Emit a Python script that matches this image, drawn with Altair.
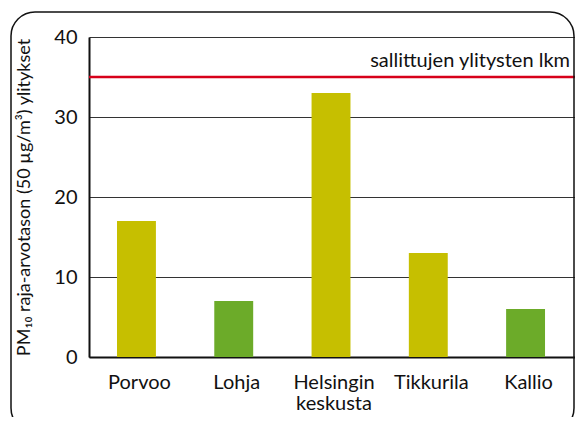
import altair as alt
import pandas as pd

asemat = ["Porvoo", "Lohja", "Helsingin keskusta", "Tikkurila", "Kallio"]
ylitykset = [17, 7, 33, 13, 6]
tyyppi = ["liikenne", "tausta", "liikenne", "liikenne", "tausta"]
raja = 35
raja_teksti = "sallittujen ylitysten lkm"
y_otsikko = "PM₁₀ raja-arvotason (50 µg/m³) ylitykset"

df = pd.DataFrame({"asema": asemat, "arvo": ylitykset, "tyyppi": tyyppi})
raja_df = pd.DataFrame({"raja": [raja], "teksti": [raja_teksti]})

FONT = "Lato"
W, H = 486, 320

bars = alt.Chart(df).mark_bar().encode(
    x=alt.X("asema:N", sort=asemat,
            scale=alt.Scale(paddingInner=0.6, paddingOuter=0.298, align=0.483),
            axis=alt.Axis(title=None, labelAngle=0, labelFontSize=20, labelFont=FONT,
                          labelColor="#111", labelPadding=15, ticks=False,
                          labelOffset=3,
                          domainColor="#111", domainWidth=2,
                          labelExpr="split(datum.label, ' ')", labelLineHeight=21,
                          labelBaseline="top")),
    y=alt.Y("arvo:Q", scale=alt.Scale(domain=[0, 40]),
            axis=alt.Axis(title=y_otsikko, values=[0, 10, 20, 30, 40], ticks=False,
                          labelFontSize=20, labelFont=FONT, labelColor="#111",
                          labelPadding=12, titleFont=FONT, titleFontSize=18,
                          titleFontWeight="normal", titleColor="#111", titlePadding=20,
                          domainColor="#111", domainWidth=2,
                          grid=True, gridColor="#333", gridWidth=1)),
    color=alt.Color("tyyppi:N", scale=alt.Scale(domain=["liikenne", "tausta"],
                                                 range=["#c6bf00", "#6cab29"]),
                    legend=None),
)

rule = alt.Chart(raja_df).mark_rule(color="#d7001a", strokeWidth=2.5).encode(
    y=alt.Y("raja:Q")
)

label = alt.Chart(raja_df).mark_text(align="right", baseline="bottom", dy=-6,
                                     fontSize=20, font=FONT, color="#111").encode(
    y=alt.Y("raja:Q"), x=alt.value(W - 5), text="teksti:N"
)

frame = alt.Chart(raja_df).mark_rect(fill=None, stroke="#111", strokeWidth=1.5,
                                      cornerRadius=24).encode(
    x=alt.value(-78), x2=alt.value(W - 1), y=alt.value(-25), y2=alt.value(H + 75)
)

chart = alt.layer(bars, rule, label, frame).properties(
    width=W, height=H,
    autosize=alt.AutoSizeParams(type="none"),
    padding={"left": 81, "top": 29, "right": 0, "bottom": 60},
).configure_view(stroke=None).configure(background="white")

chart.save("out.html", embed_options={"renderer": "svg", "actions": False})
